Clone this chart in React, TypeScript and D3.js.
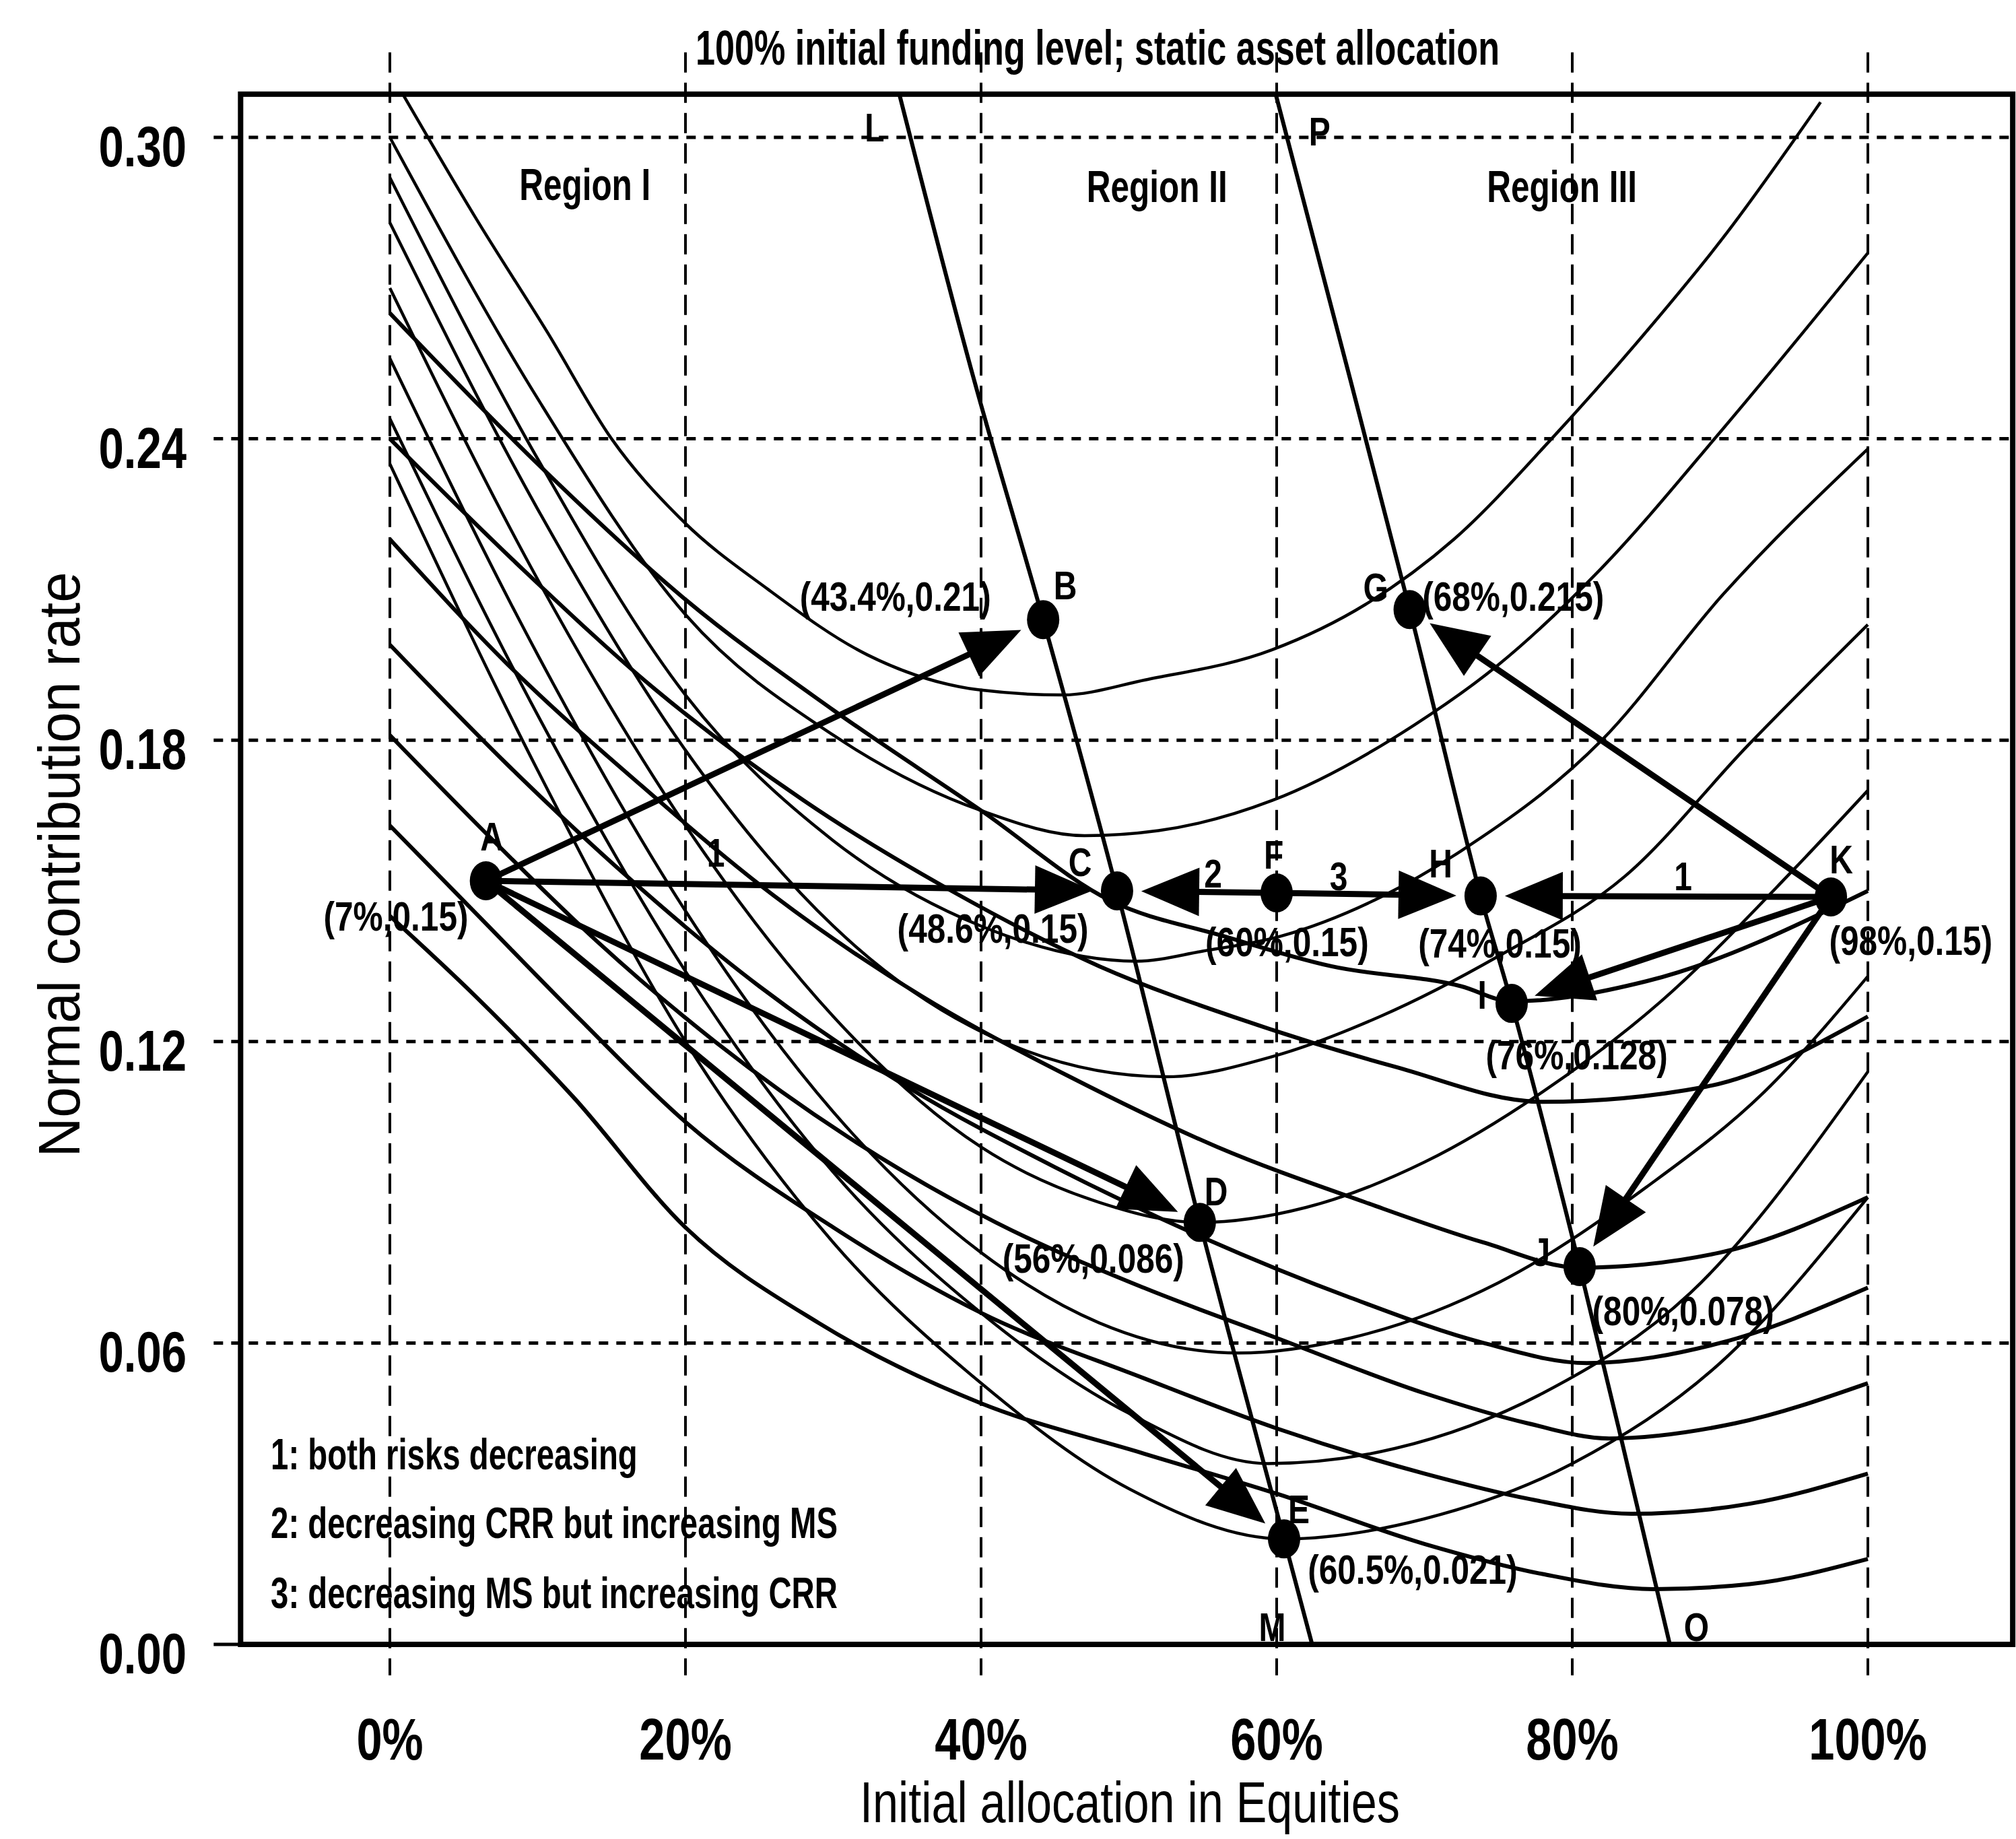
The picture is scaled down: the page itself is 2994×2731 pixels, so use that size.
import React from 'react';
import * as d3 from 'd3';

const W = 2994;
const H = 2731;

const xTicks = [0, 20, 40, 60, 80, 100];
const xTickLabels = ['0%', '20%', '40%', '60%', '80%', '100%'];
const yTicks = [0, 0.06, 0.12, 0.18, 0.24, 0.3];
const yTickLabels = ['0.00', '0.06', '0.12', '0.18', '0.24', '0.30'];

// plotted points: name, allocation (%), contribution rate
const keyPoints: [string, number, number][] = [
  ['A', 6.5, 0.152], ['B', 44.2, 0.204], ['C', 49.2, 0.150], ['D', 54.8, 0.084],
  ['E', 60.5, 0.021], ['F', 60.0, 0.1496], ['G', 69.0, 0.206], ['H', 73.8, 0.149],
  ['I', 75.9, 0.1276], ['J', 80.5, 0.0752], ['K', 97.5, 0.1488],
];

const arrows: [string, string][] = [
  ['A', 'B'], ['A', 'C'], ['F', 'C'], ['F', 'H'], ['K', 'H'],
  ['K', 'G'], ['K', 'I'], ['K', 'J'], ['A', 'D'], ['A', 'E'],
];

// locus lines
const lineLM: [number, number][] = [[34.4, 0.3094], [39.5, 0.252], [44.2, 0.204], [49.2, 0.150], [54.8, 0.084], [60.5, 0.021], [62.4, 0]];
const linePO: [number, number][] = [[59.9, 0.309], [69.0, 0.206], [73.8, 0.149], [75.9, 0.1276], [80.5, 0.0752], [86.6, 0]];

// iso curves with minima on L-M (thin)
const isoLM: [number, number][][] = [
  [[0.6, 0.31], [5.8, 0.284], [10.7, 0.261], [15, 0.24], [19.7, 0.224], [25.6, 0.21], [32.3, 0.197], [39.9, 0.19], [45.5, 0.189], [51.1, 0.192], [59.7, 0.198], [66, 0.207], [72, 0.22], [78.6, 0.24], [85.2, 0.262], [90.2, 0.28], [96.8, 0.307]],
  [[0, 0.3], [10, 0.248], [20, 0.205], [30, 0.181], [40, 0.166], [47, 0.161], [52, 0.162], [59.7, 0.168], [69.3, 0.183], [75, 0.195], [81.9, 0.214], [90.2, 0.242], [100, 0.277]],
  [[0, 0.292], [10, 0.236], [20, 0.189], [30, 0.16], [40, 0.143], [50.5, 0.136], [55, 0.138], [60.3, 0.141], [67.2, 0.149], [72.5, 0.158], [82, 0.18], [90.2, 0.209], [100, 0.238]],
  [[0, 0.283], [10, 0.226], [20, 0.178], [30, 0.143], [40, 0.122], [52.5, 0.113], [59.7, 0.117], [67, 0.125], [75, 0.137], [83.6, 0.153], [91.9, 0.179], [100, 0.203]],
  [[0, 0.27], [10, 0.212], [20, 0.163], [30, 0.125], [40, 0.099], [48, 0.088], [54.8, 0.084], [62, 0.087], [70, 0.096], [78, 0.11], [86, 0.128], [94.9, 0.154], [100, 0.17]],
  [[0, 0.256], [10, 0.197], [20, 0.146], [30, 0.106], [40, 0.078], [48, 0.064], [57.4, 0.058], [65, 0.061], [75, 0.072], [85, 0.091], [93, 0.11], [100, 0.133]],
  [[0, 0.244], [10, 0.185], [20, 0.134], [30, 0.094], [40, 0.066], [50, 0.046], [59.4, 0.036], [68, 0.039], [78, 0.05], [88, 0.07], [100, 0.114]],
  [[0, 0.235], [10, 0.174], [20, 0.12], [30, 0.08], [40, 0.052], [50, 0.031], [60.5, 0.021], [70, 0.025], [80, 0.036], [90, 0.056], [100, 0.089]],
];

// iso curves with minima on P-O (thick)
const isoPO: [number, number][][] = [
  [[0, 0.145], [5.8, 0.129], [12.4, 0.109], [20, 0.083], [29, 0.064], [40, 0.048], [51, 0.038], [60, 0.03], [70, 0.02], [78, 0.014], [85.5, 0.011], [92, 0.012], [100, 0.017]],
  [[0, 0.163], [6, 0.145], [13, 0.124], [20, 0.104], [30, 0.083], [40, 0.066], [51, 0.053], [60, 0.043], [70, 0.034], [77, 0.029], [84, 0.026], [92, 0.028], [100, 0.034]],
  [[0, 0.181], [7, 0.16], [14, 0.14], [22, 0.12], [31, 0.101], [41, 0.084], [51, 0.071], [60, 0.061], [70, 0.05], [77, 0.044], [82.5, 0.041], [91, 0.044], [100, 0.052]],
  [[0, 0.199], [8, 0.175], [16, 0.153], [25, 0.131], [35, 0.111], [45, 0.095], [55, 0.081], [65, 0.069], [74, 0.06], [81, 0.056], [90, 0.06], [100, 0.071]],
  [[0, 0.22], [8, 0.195], [17, 0.171], [26, 0.149], [36, 0.129], [46, 0.113], [56, 0.099], [66, 0.088], [74, 0.08], [80.5, 0.075], [90, 0.078], [100, 0.089]],
  [[0, 0.24], [9, 0.214], [18, 0.19], [28, 0.168], [38, 0.15], [48, 0.135], [58, 0.124], [68, 0.115], [78, 0.108], [89, 0.111], [100, 0.125]],
  [[0, 0.265], [10, 0.235], [20, 0.208], [30, 0.186], [40, 0.166], [48.8, 0.148], [56.4, 0.141], [63.7, 0.135], [72.5, 0.131], [75.9, 0.128], [85, 0.132], [100, 0.15]],
];

// annotation texts: text, x (%), rate (baseline)
const coordLabels: [string, number, number][] = [
  ['(7%,0.15)', 0.41, 0.1421], ['(43.4%,0.21)', 34.2, 0.2058], ['(48.6%,0.15)', 40.8, 0.1397],
  ['(60%,0.15)', 60.7, 0.137], ['(74%,0.15)', 75.1, 0.1367], ['(98%,0.15)', 102.9, 0.1373],
  ['(76%,0.128)', 80.3, 0.1145], ['(68%,0.215)', 76.0, 0.2058], ['(56%,0.086)', 47.6, 0.074],
  ['(80%,0.078)', 87.5, 0.0635], ['(60.5%,0.021)', 69.2, 0.0121],
];
const letterLabels: [string, number, number][] = [
  ['A', 6.9, 0.158], ['B', 45.7, 0.208], ['C', 46.7, 0.153], ['D', 55.9, 0.0874],
  ['E', 61.5, 0.0241], ['F', 59.8, 0.1544], ['G', 66.7, 0.2076], ['H', 71.1, 0.1527],
  ['I', 73.9, 0.1266], ['J', 77.9, 0.0753], ['K', 98.2, 0.1535], ['L', 32.8, 0.2992],
  ['P', 62.9, 0.2984], ['M', 59.7, 0.0007], ['O', 88.4, 0.0007],
  ['1', 22.05, 0.1548], ['2', 55.7, 0.1507], ['3', 64.2, 0.1501], ['1', 87.5, 0.1501],
];
const regionLabels: [string, number, number][] = [
  ['Region I', 13.2, 0.2875], ['Region II', 51.9, 0.2871], ['Region III', 79.3, 0.2871],
];
const legendLines = [
  '1: both risks decreasing',
  '2: decreasing CRR but increasing MS',
  '3: decreasing MS but increasing CRR',
];
const legendRates = [0.0349, 0.0212, 0.0072];

const FONT = '"Liberation Sans", Arial, Helvetica, sans-serif';

const NText = ({ x, y, size, anchor = 'middle', sx = 0.8, weight = 400, children }: any) => (
  <text
    transform={`translate(${x},${y}) scale(${sx},1)`}
    fontSize={size}
    textAnchor={anchor}
    fontWeight={weight}
    fontFamily={FONT}
    fill="#000"
  >
    {children}
  </text>
);

export default function App() {
  const x = d3.scaleLinear().domain([0, 100]).range([579, 2774]);
  const y = d3.scaleLinear().domain([0, 0.3]).range([2442, 204]);

  const frameL = x(-10.1);
  const frameR = x(109.8);
  const frameT = y(0.3086);
  const frameB = y(0);

  const line = d3.line<[number, number]>()
    .x(d => x(d[0]))
    .y(d => y(d[1]))
    .curve(d3.curveMonotoneX);
  const locus = d3.line<[number, number]>()
    .x(d => x(d[0]))
    .y(d => y(d[1]))
    .curve(d3.curveCatmullRom.alpha(0.5));

  const pt = (name: string) => {
    const p = keyPoints.find(k => k[0] === name)!;
    return [x(p[1]), y(p[2])];
  };

  const gap = 36;
  const headLen = 86;
  const headHalf = 36;

  return (
    <div style={{ position: 'absolute', left: 0, top: 0 }}>
      <svg width={W} height={H} style={{ display: 'block', background: '#fff' }}>
        <rect width={W} height={H} fill="#fff" />
        <defs>
          <clipPath id="frame">
            <rect x={frameL} y={frameT} width={frameR - frameL} height={frameB - frameT} />
          </clipPath>
        </defs>

        {/* grid */}
        {xTicks.map(t => (
          <line key={'vx' + t} x1={x(t)} x2={x(t)} y1={frameT - 62} y2={frameB + 46}
            stroke="#000" strokeWidth={4} strokeDasharray="30 15" />
        ))}
        {yTicks.map(t => (
          <line key={'hy' + t} x1={frameL - 40} x2={t === 0 ? frameL : frameR} y1={y(t)} y2={y(t)}
            stroke="#000" strokeWidth={5} strokeDasharray={t === 0 ? undefined : '14 12'} />
        ))}

        {/* frame */}
        <rect x={frameL} y={frameT} width={frameR - frameL} height={frameB - frameT}
          fill="none" stroke="#000" strokeWidth={8} />

        <g clipPath="url(#frame)" fill="none" stroke="#000" strokeLinejoin="round">
          {isoLM.map((c, i) => <path key={'lm' + i} d={line(c)!} strokeWidth={4.5} />)}
          {isoPO.map((c, i) => <path key={'po' + i} d={line(c)!} strokeWidth={6} />)}
          <path d={locus(lineLM)!} strokeWidth={6} />
          <path d={locus(linePO)!} strokeWidth={6} />
        </g>

        {/* arrows */}
        {arrows.map(([a, b], i) => {
          const [x0, y0] = pt(a);
          const [x1, y1] = pt(b);
          const dx = x1 - x0, dy = y1 - y0;
          const len = Math.hypot(dx, dy);
          const ux = dx / len, uy = dy / len;
          const tx = x1 - ux * gap, ty = y1 - uy * gap;
          const bx = tx - ux * headLen, by = ty - uy * headLen;
          const nx = -uy, ny = ux;
          return (
            <g key={'ar' + i}>
              <line x1={x0} y1={y0} x2={bx + ux * 4} y2={by + uy * 4} stroke="#000" strokeWidth={9} />
              <path d={`M${tx},${ty}L${bx + nx * headHalf},${by + ny * headHalf}L${bx - nx * headHalf},${by - ny * headHalf}Z`} fill="#000" />
            </g>
          );
        })}

        {keyPoints.map(p => (
          <ellipse key={'pt' + p[0]} cx={x(p[1])} cy={y(p[2])} rx={24} ry={29} fill="#000" />
        ))}

        {coordLabels.map((l, i) => (
          <NText key={'cl' + i} x={x(l[1])} y={y(l[2])} size={62} sx={0.8} weight={700}>{l[0]}</NText>
        ))}
        {letterLabels.map((l, i) => (
          <NText key={'ll' + i} x={x(l[1])} y={y(l[2])} size={60} sx={0.8} weight={700}>{l[0]}</NText>
        ))}
        {regionLabels.map((l, i) => (
          <NText key={'rl' + i} x={x(l[1])} y={y(l[2])} size={66} sx={0.75} weight={700}>{l[0]}</NText>
        ))}
        {legendLines.map((t, i) => (
          <NText key={'lg' + i} x={x(-8.06)} y={y(legendRates[i])} size={64} sx={0.74} anchor="start" weight={700}>{t}</NText>
        ))}

        {/* axes labels */}
        {xTicks.map((t, i) => (
          <NText key={'xt' + t} x={x(t)} y={2613} size={88} sx={0.78} weight={700}>{xTickLabels[i]}</NText>
        ))}
        {yTicks.map((t, i) => (
          <NText key={'yt' + t} x={277} y={y(t) + 43} size={86} sx={0.78} anchor="end" weight={700}>{yTickLabels[i]}</NText>
        ))}
        <text x={1678} y={2706} fontSize={86} fontFamily={FONT} textAnchor="middle"
          textLength={802} lengthAdjust="spacingAndGlyphs">Initial allocation in Equities</text>
        <text transform="translate(118,1284) rotate(-90)" fontSize={88} fontFamily={FONT} textAnchor="middle"
          textLength={869} lengthAdjust="spacingAndGlyphs">Normal contribution rate</text>
        <text x={1630} y={96} fontSize={72} fontFamily={FONT} textAnchor="middle" fontWeight={700}
          textLength={1194} lengthAdjust="spacingAndGlyphs">100% initial funding level; static asset allocation</text>
      </svg>
    </div>
  );
}
